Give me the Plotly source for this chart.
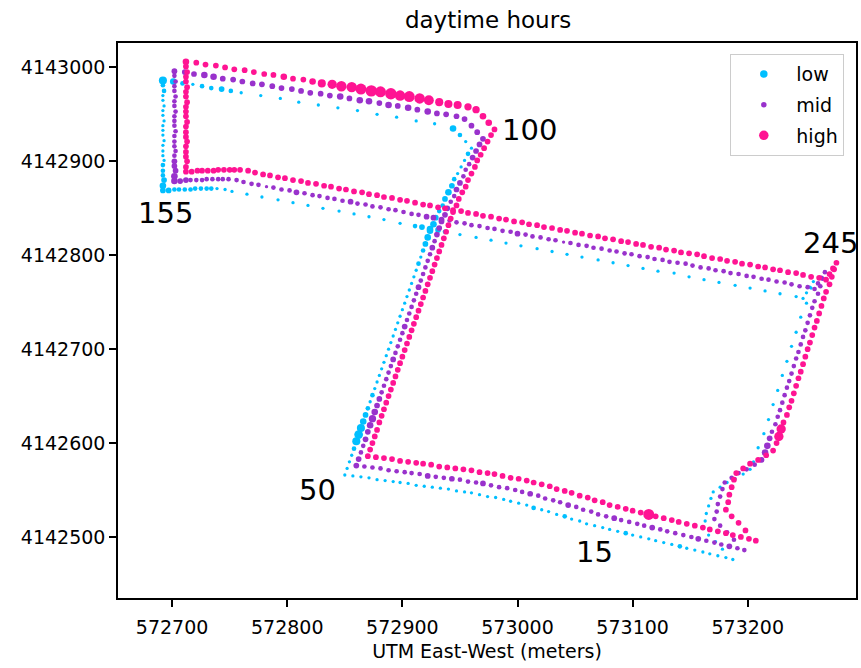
import plotly.graph_objects as go

# GPS track (UTM metres), one fix per index along the route
east = [
    # southern leg, heading west (0-50)
    573187, 573181, 573174, 573167, 573161, 573154, 573147, 573141, 573134, 573127, 573120,
    573114, 573107, 573100, 573094, 573087, 573080, 573074, 573067, 573060,
    573054, 573047, 573041, 573034, 573027, 573021, 573014, 573008, 573001,
    572994, 572988, 572981, 572974, 572967,
    572960, 572954, 572947, 572940, 572933, 572926, 572919, 572912, 572905, 572898, 572892,
    572885, 572878, 572871, 572864, 572857, 572850,
    # diagonal north-east (51-100)
    572852, 572854, 572856, 572858, 572860, 572862, 572864, 572866, 572868, 572870, 572872, 572874, 572876,
    572878, 572880, 572882, 572884, 572886, 572888, 572890, 572892, 572894, 572896, 572898, 572900,
    572902, 572904, 572906, 572908, 572910, 572912, 572914, 572916, 572918, 572920, 572922, 572924,
    572927, 572929, 572932, 572935, 572937, 572940, 572943,
    572945, 572948, 572951, 572954, 572957, 572960,
    # northern leg west, then south (101-155)
    572955, 572950, 572944, 572937, 572928, 572920, 572912, 572903, 572895, 572886,
    572878, 572870, 572861, 572853, 572844, 572836, 572827, 572819,
    572810, 572802, 572794, 572785, 572777, 572768, 572760, 572751, 572743, 572734,
    572726, 572718, 572709, 572701, 572692,
    572692, 572693, 572692, 572692, 572693, 572692, 572692, 572693, 572692, 572692, 572692,
    572693, 572692, 572692, 572692, 572693, 572692, 572692, 572692, 572693, 572692, 572692,
    # long leg east-south-east (156-245)
    572697, 572702, 572706, 572711, 572716, 572720, 572725, 572730, 572734, 572739, 572746, 572752,
    572759, 572765, 572772, 572778, 572785, 572792, 572798, 572805, 572812, 572818,
    572825, 572831, 572838, 572845, 572851, 572858, 572864, 572871, 572878, 572884,
    572891, 572898, 572904, 572911, 572917, 572924, 572931, 572937, 572944, 572950,
    572957, 572964, 572970, 572977, 572984, 572990, 572997, 573003, 573010, 573017,
    573023, 573030, 573036, 573043, 573050, 573056, 573063, 573070, 573076, 573083,
    573089, 573096, 573103, 573109, 573116, 573122, 573129, 573136, 573142, 573149,
    573156, 573162, 573169, 573175, 573182, 573189, 573195, 573202, 573208, 573215,
    573222, 573228, 573235, 573242, 573248,
    573251, 573254, 573257,
    # eastern leg south (246-284)
    573255, 573253, 573251, 573248, 573246, 573244, 573242, 573240, 573238, 573236,
    573234, 573232, 573230, 573228, 573226, 573224, 573222, 573220, 573218, 573216,
    573214, 573211, 573209, 573207, 573205, 573202, 573196, 573189, 573182, 573176,
    573170, 573168, 573166, 573164, 573163, 573161,
    573166, 573172, 573178,
]

north = [
    4142476, 4142478, 4142480, 4142482, 4142484, 4142486, 4142488, 4142490, 4142492, 4142494, 4142496,
    4142498, 4142500, 4142502, 4142504, 4142506, 4142508, 4142510, 4142512, 4142514,
    4142517, 4142519, 4142522, 4142524, 4142527, 4142529, 4142531, 4142534, 4142536,
    4142538, 4142540, 4142542, 4142543, 4142545,
    4142547, 4142548, 4142549, 4142551, 4142552, 4142553, 4142554, 4142555, 4142557, 4142558, 4142559,
    4142560, 4142561, 4142563, 4142564, 4142565, 4142566,
    4142573, 4142580, 4142587, 4142594, 4142602, 4142609, 4142616, 4142623, 4142630, 4142637, 4142644, 4142651, 4142658,
    4142665, 4142672, 4142679, 4142686, 4142693, 4142700, 4142707, 4142714, 4142721, 4142728, 4142735,
    4142742, 4142749, 4142756, 4142763, 4142770, 4142777, 4142784, 4142791, 4142798, 4142805, 4142812, 4142819, 4142826,
    4142833, 4142840, 4142847, 4142853, 4142860, 4142867, 4142874,
    4142881, 4142887, 4142894, 4142901, 4142908, 4142914,
    4142921, 4142928, 4142935, 4142938, 4142940, 4142941, 4142943, 4142945, 4142947, 4142949,
    4142950, 4142952, 4142954, 4142955, 4142957, 4142959, 4142960, 4142962,
    4142963, 4142965, 4142967, 4142968, 4142970, 4142972, 4142973, 4142975, 4142977, 4142978,
    4142980, 4142982, 4142983, 4142985, 4142986,
    4142981, 4142975, 4142970, 4142965, 4142959, 4142954, 4142949, 4142943, 4142938, 4142933, 4142928,
    4142922, 4142917, 4142911, 4142906, 4142901, 4142896, 4142890, 4142885, 4142880, 4142874, 4142869,
    4142869, 4142870, 4142870, 4142870, 4142870, 4142871, 4142871, 4142871, 4142871, 4142871, 4142870, 4142868,
    4142866, 4142865, 4142863, 4142862, 4142860, 4142859, 4142857, 4142856, 4142854, 4142853,
    4142851, 4142850, 4142848, 4142847, 4142845, 4142844, 4142842, 4142841, 4142839, 4142838,
    4142836, 4142834, 4142833, 4142831, 4142830, 4142828, 4142827, 4142825, 4142824, 4142822,
    4142821, 4142819, 4142818, 4142816, 4142815, 4142813, 4142812, 4142810, 4142809, 4142807,
    4142806, 4142804, 4142803, 4142801, 4142800, 4142798, 4142797, 4142795, 4142794, 4142792,
    4142791, 4142789, 4142788, 4142786, 4142785, 4142783, 4142782, 4142781, 4142779, 4142777,
    4142776, 4142774, 4142773, 4142771, 4142770, 4142768, 4142767, 4142765, 4142764, 4142762,
    4142761, 4142759, 4142757, 4142756, 4142754,
    4142760, 4142766, 4142772,
    4142765, 4142757, 4142749, 4142741, 4142734, 4142726, 4142718, 4142710, 4142703, 4142695,
    4142687, 4142680, 4142672, 4142664, 4142656, 4142649, 4142641, 4142633, 4142625, 4142618,
    4142610, 4142602, 4142595, 4142587, 4142580, 4142572, 4142567, 4142562, 4142558, 4142553,
    4142548, 4142541, 4142533, 4142525, 4142517, 4142509,
    4142502, 4142495, 4142487,
]

# hours spent in each level at every fix
low_hours = [
    1, 1, 1, 1, 1, 1, 1, 2, 1, 1, 1,
    1, 1, 1, 2, 1, 1, 1, 1, 1,
    1, 1, 2, 1, 1, 1, 2, 1, 1,
    1, 1, 1, 1, 1,
    1, 1, 1, 1, 1, 1, 1, 1, 1, 1, 1,
    1, 1, 1, 1, 1, 1,
    1, 1, 1, 2, 6, 7, 6, 4, 3, 2, 1, 2, 1,
    1, 1, 1, 1, 1, 1, 1, 1, 1, 1, 1, 1,
    1, 1, 1, 1, 1, 1, 2, 1, 2, 3, 4, 4,
    4, 3, 2, 2, 3, 4, 3,
    2, 1, 1, 1, 2, 1,
    1, 2, 4, 0, 1, 0, 1, 0, 1, 0,
    1, 0, 1, 0, 1, 0, 1, 0,
    1, 0, 1, 0, 1, 0, 1, 2, 3, 2,
    2, 1, 2, 4, 6,
    2, 2, 1, 1, 1, 1, 1, 1, 1, 1, 1,
    1, 1, 1, 1, 1, 2, 2, 2, 3, 4, 3,
    3, 2, 2, 2, 2, 2, 2, 2, 2, 1, 1, 1,
    0, 1, 0, 1, 0, 1, 0, 1, 0, 1,
    0, 1, 0, 1, 0, 1, 0, 1, 0, 1,
    0, 1, 0, 2, 3, 4, 3, 2, 0, 1,
    0, 1, 0, 1, 0, 1, 0, 1, 0, 1,
    0, 1, 0, 1, 0, 1, 0, 1, 0, 1,
    0, 1, 0, 1, 0, 1, 0, 1, 0, 1,
    0, 1, 0, 1, 0, 1, 0, 1, 0, 1,
    0, 1, 0, 1, 1,
    1, 1, 1,
    1, 0, 1, 0, 1, 0, 1, 0, 1, 0,
    1, 0, 1, 0, 1, 0, 1, 0, 1, 0,
    1, 0, 1, 0, 1, 1, 1, 1, 1, 1,
    1, 1, 1, 1, 1, 1,
    1, 1, 1,
]

mid_hours = [
    2, 2, 3, 2, 2, 2, 3, 2, 2, 2, 2,
    2, 3, 2, 2, 2, 2, 3, 2, 2,
    2, 2, 2, 3, 2, 2, 2, 2, 3,
    2, 2, 2, 2, 2,
    3, 2, 2, 2, 3, 2, 2, 3, 2, 2, 2,
    2, 2, 2, 2, 2, 3,
    3, 2, 2, 3, 3, 4, 5, 4, 3, 3, 2, 2, 2,
    2, 2, 3, 2, 2, 2, 2, 3, 2, 2, 2, 2,
    2, 3, 2, 2, 2, 2, 2, 3, 2, 3, 3, 3,
    3, 3, 2, 2, 3, 3, 2,
    2, 2, 3, 3, 3, 3,
    3, 3, 3, 3, 3, 3, 4, 3, 4, 3,
    4, 3, 4, 4, 3, 4, 3, 3,
    3, 3, 3, 3, 3, 3, 3, 3, 3, 3,
    4, 4, 3, 3, 3,
    2, 2, 2, 2, 2, 2, 2, 2, 2, 2, 2,
    2, 2, 2, 2, 2, 2, 3, 3, 3, 4, 4,
    3, 3, 2, 2, 2, 2, 2, 2, 2, 2, 2, 2,
    2, 2, 1, 2, 2, 2, 3, 2, 2, 2,
    2, 2, 2, 3, 2, 2, 2, 2, 2, 2,
    2, 2, 2, 3, 3, 3, 2, 2, 2, 2,
    2, 2, 2, 2, 2, 3, 2, 2, 2, 2,
    2, 1, 2, 2, 2, 2, 2, 2, 2, 2,
    2, 2, 2, 2, 2, 2, 2, 2, 2, 2,
    2, 2, 2, 2, 2, 2, 2, 2, 2, 2,
    2, 2, 2, 2, 2,
    2, 2, 2,
    2, 2, 2, 2, 2, 2, 2, 2, 2, 2,
    2, 2, 2, 2, 2, 2, 2, 2, 2, 2,
    2, 2, 3, 4, 4, 3, 2, 2, 2, 2,
    2, 2, 2, 2, 2, 2,
    2, 2, 2,
]

high_hours = [
    3, 3, 3, 3, 3, 3, 3, 3, 3, 3, 3,
    3, 3, 3, 11, 3, 3, 3, 3, 3,
    3, 3, 3, 3, 3, 3, 3, 3, 3,
    3, 3, 3, 3, 3,
    3, 3, 3, 3, 3, 3, 3, 3, 3, 3, 3,
    3, 3, 3, 3, 3, 3,
    3, 3, 3, 3, 3, 3, 3, 3, 3, 3, 3, 3, 3,
    3, 3, 3, 3, 3, 3, 3, 3, 3, 3, 3, 3,
    3, 3, 3, 3, 3, 3, 3, 3, 3, 3, 3, 3,
    3, 3, 3, 3, 3, 3, 3,
    3, 3, 3, 3, 3, 3,
    4, 4, 5, 5, 6, 6, 6, 9, 10, 11,
    10, 12, 11, 12, 11, 10, 10, 8,
    6, 4, 3, 3, 4, 3, 3, 3, 3, 3,
    3, 3, 3, 3, 4,
    3, 3, 3, 3, 3, 3, 3, 3, 3, 3, 3,
    3, 3, 3, 3, 3, 3, 3, 3, 3, 3, 3,
    3, 3, 3, 3, 3, 3, 3, 3, 3, 3, 3, 3,
    3, 3, 3, 3, 3, 3, 3, 3, 3, 3,
    3, 3, 3, 3, 3, 3, 3, 3, 3, 3,
    3, 3, 3, 3, 3, 3, 3, 3, 3, 3,
    3, 3, 3, 3, 3, 3, 3, 3, 3, 3,
    3, 3, 3, 3, 3, 3, 3, 3, 3, 3,
    3, 3, 3, 3, 3, 3, 3, 3, 3, 3,
    3, 3, 3, 3, 3, 3, 3, 3, 3, 3,
    3, 3, 3, 3, 3,
    3, 3, 3,
    3, 3, 3, 3, 3, 3, 3, 3, 3, 3,
    3, 3, 3, 3, 3, 3, 3, 3, 3, 3,
    3, 3, 8, 8, 3, 3, 3, 3, 3, 3,
    3, 3, 3, 3, 3, 3,
    3, 3, 3,
]

levels = ["low", "mid", "high"]
hours = {"low": low_hours, "mid": mid_hours, "high": high_hours}

# fix indices marked on the route
mark_index = [15, 50, 100, 155, 245]
mark_text = ["15", "50", "100", "155", "245"]

# --- styling -------------------------------------------------------------
colors = {"low": "#00BFFF", "mid": "#9932CC", "high": "#FF1493"}
shift_m = {"low": 0, "mid": 10, "high": 20}          # side-by-side display shift
legend_size = {"low": 7.5, "mid": 5.5, "high": 9.5}
label_offset = {15: (-20, -22), 50: (-24, -16), 100: (50, 19), 155: (2, -24), 245: (15, 41)}

font = "DejaVu Sans"

fig = go.Figure()
for lvl in levels:
    d = shift_m[lvl]
    fig.add_trace(go.Scatter(
        x=[e + d for e in east],
        y=[n + d for n in north],
        mode="markers",
        marker=dict(color=colors[lvl], size=[3.3 * h ** 0.5 for h in hours[lvl]],
                    line=dict(width=0), opacity=1),
        name=lvl, showlegend=False, hoverinfo="skip",
    ))
for lvl in levels:
    fig.add_trace(go.Scatter(
        x=[None], y=[None], mode="markers", name=lvl, legendgroup=lvl,
        marker=dict(color=colors[lvl], size=legend_size[lvl]),
    ))

for idx, txt in zip(mark_index, mark_text):
    ox, oy = label_offset[idx]
    fig.add_annotation(
        x=east[idx] + ox, y=north[idx] + oy, text=txt, showarrow=False,
        font=dict(family=font, size=29, color="black"),
        xanchor="center", yanchor="middle",
    )

axis_common = dict(
    showgrid=False, zeroline=False, showline=True, mirror=True,
    linecolor="black", linewidth=1.5, ticks="outside", ticklen=7, tickwidth=1.5,
    tickcolor="black", tickfont=dict(family=font, size=19, color="black"),
)

fig.update_layout(
    width=861, height=668,
    margin=dict(l=118, r=3, t=43, b=70),
    paper_bgcolor="white", plot_bgcolor="white",
    title=dict(text="daytime hours", x=0.5668, xanchor="center", y=0.970, yanchor="middle",
               font=dict(family=font, size=23, color="black")),
    xaxis=dict(range=[572653, 573294], tickvals=[572700, 572800, 572900, 573000, 573100, 573200],
               ticktext=["572700", "572800", "572900", "573000", "573100", "573200"],
               ticklabelstandoff=4,
               title=dict(text="UTM East-West (meters)", font=dict(family=font, size=19, color="black"),
                          standoff=8),
               **axis_common),
    yaxis=dict(range=[4142435, 4143026],
               tickvals=[4142500, 4142600, 4142700, 4142800, 4142900, 4143000],
               ticktext=["4142500", "4142600", "4142700", "4142800", "4142900", "4143000"],
               **axis_common),
    legend=dict(x=0.8297, y=0.980, xanchor="left", yanchor="top",
                bgcolor="rgba(255,255,255,0.8)", bordercolor="#cccccc", borderwidth=1,
                font=dict(family=font, size=19, color="black"), itemwidth=55,
                tracegroupgap=3),
    showlegend=True,
)

fig.write_html("out.html")
